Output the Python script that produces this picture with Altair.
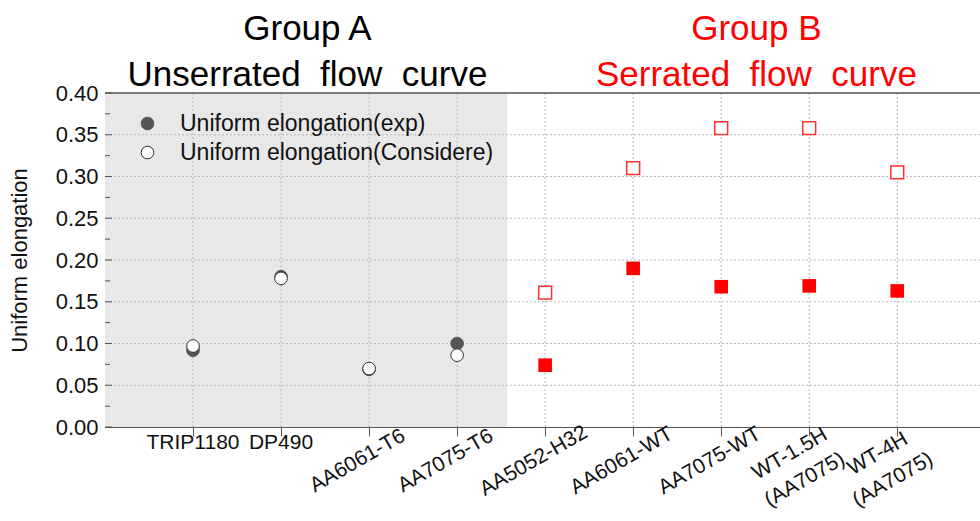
import altair as alt
import pandas as pd

# ---- values ----
materials = [
    "TRIP1180", "DP490", "AA6061-T6", "AA7075-T6",
    "AA5052-H32", "AA6061-WT", "AA7075-WT", "WT-1.5H\n(AA7075)", "WT-4H\n(AA7075)",
]
group = ["A", "A", "A", "A", "B", "B", "B", "B", "B"]
ue_exp = [0.092, 0.180, 0.069, 0.100, 0.074, 0.190, 0.168, 0.169, 0.163]
ue_considere = [0.097, 0.178, 0.070, 0.086, 0.161, 0.310, 0.358, 0.358, 0.305]
y_ticks = [0.00, 0.05, 0.10, 0.15, 0.20, 0.25, 0.30, 0.35, 0.40]
y_minor = [0.025, 0.075, 0.125, 0.175, 0.225, 0.275, 0.325, 0.375]
series_names = ["Uniform elongation(exp)", "Uniform elongation(Considere)"]
NB = "\u00a0\u00a0"  # wide word gap in the headings
group_titles = [f"Group A\nUnserrated{NB}flow{NB}curve",
                f"Group B\nSerrated{NB}flow{NB}curve"]

FONT = "Liberation Sans"
W, H = 875, 334
X_MAX = 9.94
A_END = 4.57  # where the unserrated group's shaded band ends

pos = list(range(1, len(materials) + 1))
df = pd.DataFrame({"mat": materials, "grp": group, "pos": pos,
                   "exp": ue_exp, "cons": ue_considere})

x_scale = alt.Scale(domain=[0, X_MAX], nice=False, zero=False)
y_scale = alt.Scale(domain=[0, 0.40], nice=False)
x_axis = alt.Axis(values=pos, labels=False, title=None, grid=False, ticks=True,
                  tickSize=9, tickColor="#555555", domainColor="#555555")
y_axis = alt.Axis(values=y_ticks, format=".2f", title="Uniform elongation",
                  grid=False, ticks=False, tickSize=0, labelPadding=7,
                  labelFontSize=22, labelFont=FONT, labelColor="#111111",
                  titleFontSize=22, titleFont=FONT, titleFontWeight="normal",
                  titleColor="#111111", titlePadding=24, domainColor="#555555")


def X(field):
    return alt.X(field, type="quantitative", scale=x_scale, axis=x_axis)


def Y(field):
    return alt.Y(field, type="quantitative", scale=y_scale, axis=y_axis)


# shaded band behind group A
band = pd.DataFrame({"x0": [0.0], "x1": [A_END], "y0": [0.0], "y1": [0.40]})
bg = alt.Chart(band).mark_rect(fill="#e8e8e8").encode(
    x=X("x0"), x2="x1", y=Y("y0"), y2="y1")

# dotted grid
hgrid = alt.Chart(pd.DataFrame({"v": y_ticks[1:-1]})).mark_rule(
    color="#b8b8b8", strokeDash=[2, 2], strokeWidth=1).encode(y=Y("v"))
vgrid = alt.Chart(pd.DataFrame({"p": pos})).mark_rule(
    color="#b8b8b8", strokeDash=[2, 2], strokeWidth=1).encode(x=X("p"))

# inward frame ticks on the value axis
major_ticks = alt.Chart(pd.DataFrame({"v": y_ticks})).mark_rule(
    color="#555555").encode(y=Y("v"), x=alt.value(0), x2=alt.value(7))
minor_ticks = alt.Chart(pd.DataFrame({"v": y_minor})).mark_rule(
    color="#555555").encode(y=Y("v"), x=alt.value(0), x2=alt.value(5))
top_line = alt.Chart(pd.DataFrame({"v": [0.40]})).mark_rule(
    color="#555555", strokeWidth=1.5).encode(y=Y("v"))

# group A: circles, experimental underneath, Considere on top
a = df[df.grp == "A"]
a_long = pd.concat([
    pd.DataFrame({"pos": a.pos, "val": a.exp, "series": series_names[0], "k": 0}),
    pd.DataFrame({"pos": a.pos, "val": a.cons, "series": series_names[1], "k": 1}),
], ignore_index=True)
legend = alt.Legend(orient="none", legendX=31, legendY=19, title=None,
                    labelFontSize=23, labelFont=FONT, labelColor="#111111",
                    labelLimit=0, symbolType="circle", symbolSize=160,
                    symbolStrokeWidth=1, labelOffset=21, rowPadding=5)
circles = alt.Chart(a_long).mark_point(filled=True, size=160, opacity=1,
                                       strokeWidth=1).encode(
    x=X("pos"), y=Y("val"),
    fill=alt.Fill("series:N", scale=alt.Scale(domain=series_names,
                                              range=["#555555", "#ffffff"]),
                  legend=legend),
    stroke=alt.Stroke("series:N", scale=alt.Scale(domain=series_names,
                                                  range=["#555555", "#333333"]),
                      legend=legend),
    order=alt.Order("k:Q"),
)

# group B: squares in red
b = df[df.grp == "B"]
b_exp = alt.Chart(b).mark_square(size=185, color="#ff0000", opacity=1).encode(
    x=X("pos"), y=Y("exp"))
b_cons = alt.Chart(b).mark_square(size=165, filled=True, fill="#ffffff",
                                  stroke="#ff3030", strokeWidth=1.5,
                                  opacity=1).encode(x=X("pos"), y=Y("cons"))

# category labels under the axis: first two flat, the rest slanted
lab = df[["mat", "pos"]].copy()
lab["two"] = lab.mat.str.contains("\n")
lab["ang"] = [0 if i < 2 else 330 for i in range(len(lab))]
lab["lx"] = [p if i < 2 else (p - 0.22 if t else p - 0.13)
             for i, (p, t) in enumerate(zip(lab.pos, lab.two))]
lab["ly"] = [H + 16 if i < 2 else (H + 27 if t else H + 34)
             for i, t in enumerate(lab.two)]
labels = alt.Chart(lab).mark_text(font=FONT, fontSize=21, color="#111111",
                                  align="center", baseline="middle",
                                  lineBreak="\n", lineHeight=30).encode(
    x=X("lx"), y=alt.Y("ly:Q", scale=None), text="mat:N",
    angle=alt.Angle("ang:Q", scale=None))

# group headings above the plot
heads = pd.DataFrame({"t": group_titles, "tx": [2.3, 7.4],
                      "c": ["#000000", "#ff0000"]})
titles = alt.Chart(heads).mark_text(font=FONT, fontSize=35, align="center",
                                    baseline="alphabetic", lineBreak="\n",
                                    lineHeight=46).encode(
    x=X("tx"), y=alt.value(-53), text="t:N", color=alt.Color("c:N", scale=None))

chart = alt.layer(
    bg, hgrid, vgrid, major_ticks, minor_ticks, top_line,
    circles, b_cons, b_exp, labels, titles,
).properties(
    width=W, height=H,
    autosize=alt.AutoSizeParams(type="none"),
    padding={"left": 105, "top": 93, "right": 0, "bottom": 94},
).configure(font=FONT).configure_view(stroke=None)

chart.save("out.html", embed_options={"renderer": "svg", "actions": False})
